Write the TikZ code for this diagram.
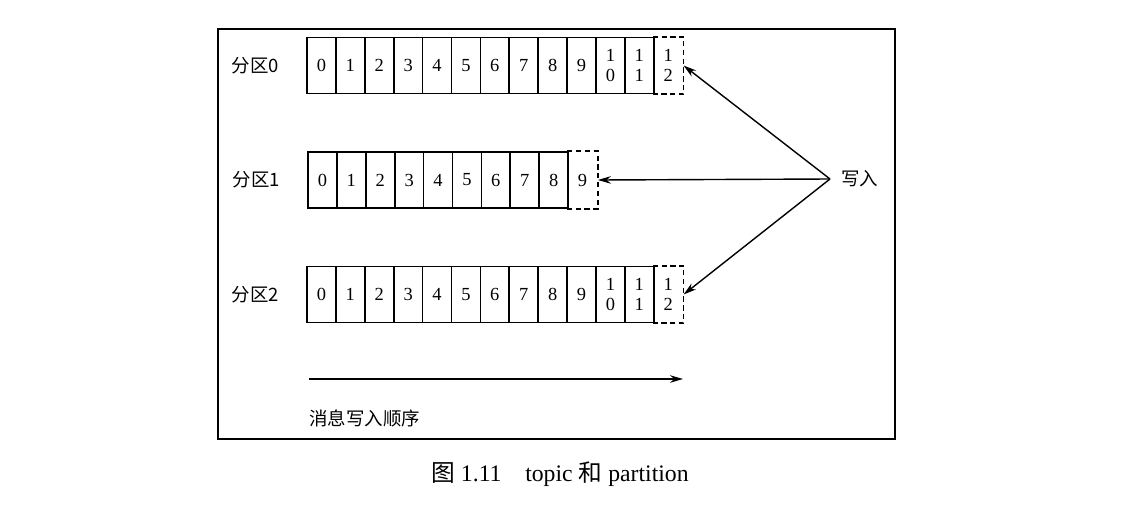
\documentclass[tikz,border=0pt]{standalone}
\usepackage{fontspec}
\setmainfont{Liberation Serif}
\newfontfamily\cjk{Noto Sans CJK SC}
\usetikzlibrary{arrows.meta,positioning,calc}
\tikzset{
  cellbox/.style={draw=black, line width=1pt, minimum width=0.578cm,
                  minimum height=1.12cm, inner sep=0pt, align=center,
                  font=\fontsize{10.5}{11.5}\selectfont},
  newbox/.style={cellbox, draw=none},
  dashline/.style={line width=1pt, dash pattern=on 3pt off 2pt},
  rowlabel/.style={font=\cjk\fontsize{10.5}{12}\selectfont},
  frame/.style={draw=black, line width=1.1pt},
  arr/.style={-{Stealth[length=2.6mm,width=1.5mm]}, line width=0.8pt}}

\begin{document}
\begin{tikzpicture}[x=0.02cm, y=-0.02cm]
    \useasboundingbox (0,0) rectangle (1134,514);
    \fill[white] (0,0) rectangle (1134,514);
    \draw[frame] (218,29) rectangle (895,439);
    % partition 0
    \foreach \t [count=\i from 0] in {0,1,2,3,4,5,6,7,8,9,{1\\0},{1\\1}}
      \node[cellbox] (p0c\i) at ({307+28.9*(\i+0.5)},65.5) {\t};
    \node[newbox] (p0new) at ({307+28.9*12.5},65.5) {1\\2};
    \draw[dashline] (p0new.north west) -- (p0new.north east)
      -- (p0new.south east) -- (p0new.south west);
    \node[rowlabel, left=0.42cm of p0c0] (l0) {分区0};
    % partition 1
    \foreach \t [count=\i from 0] in {0,1,2,3,4,5,6,7,8}
      \node[cellbox] (p1c\i) at ({308+28.9*(\i+0.5)},180) {\t};
    \node[newbox] (p1new) at ({308+28.9*9.5},180) {9};
    \draw[dashline] (p1new.north west) -- (p1new.north east)
      -- (p1new.south east) -- (p1new.south west);
    \node[rowlabel, left=0.42cm of p1c0] (l1) {分区1};
    % partition 2
    \foreach \t [count=\i from 0] in {0,1,2,3,4,5,6,7,8,9,{1\\0},{1\\1}}
      \node[cellbox] (p2c\i) at ({307+28.9*(\i+0.5)},294.5) {\t};
    \node[newbox] (p2new) at ({307+28.9*12.5},294.5) {1\\2};
    \draw[dashline] (p2new.north west) -- (p2new.north east)
      -- (p2new.south east) -- (p2new.south west);
    \node[rowlabel, left=0.42cm of p2c0] (l2) {分区2};
    % the writer
    \coordinate (hub) at (830,179);
    \node[rowlabel, right=0.1cm of hub] (write) {写入};
    \draw[arr] (hub) -- (p0new.east);
    \draw[arr] (hub) -- (p1new.east);
    \draw[arr] (hub) -- (p2new.east);
    % write order
    \coordinate (ordstart) at (309,379);
    \coordinate (ordend) at (683,379);
    \draw[arr] (ordstart) -- (ordend);
    \node[rowlabel, anchor=west] (ordlabel) at (303,418) {消息写入顺序};
    \node[font=\fontsize{13.5}{15}\selectfont] (caption) at (560,474)
      {{\cjk 图} 1.11\quad topic {\cjk 和} partition};
\end{tikzpicture}
\end{document}
